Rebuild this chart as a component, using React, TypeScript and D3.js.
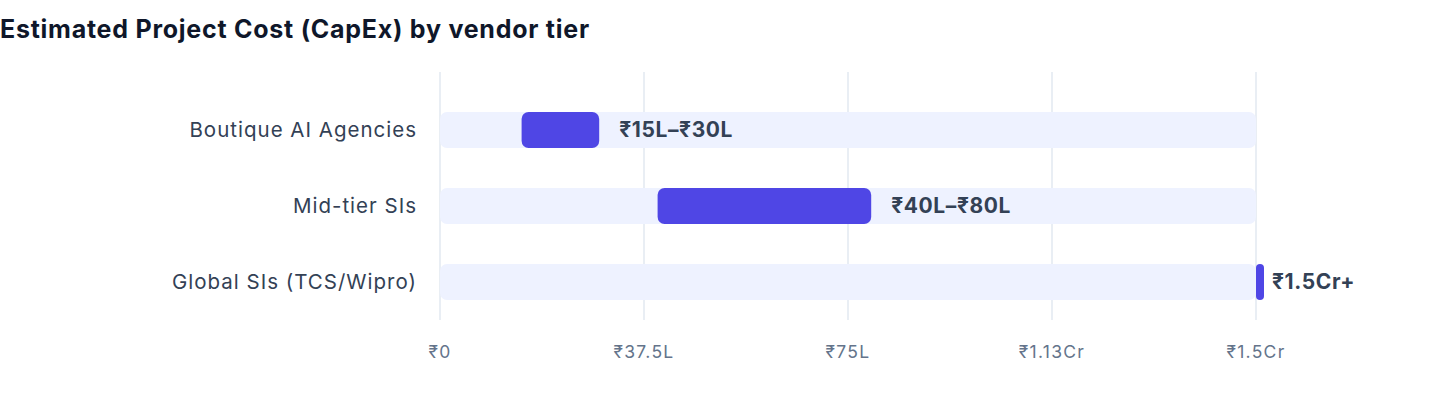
import * as d3 from 'd3';
import React, { useEffect, useRef } from 'react';

const tiers = ['Boutique AI Agencies', 'Mid-tier SIs', 'Global SIs (TCS/Wipro)'];
// cost ranges in lakhs (₹L)
const lowValues = [15, 40, 150];
const highValues = [30, 80, 150];
const rangeLabels = ['₹15L–₹30L', '₹40L–₹80L', '₹1.5Cr+'];
const tickValues = [0, 37.5, 75, 112.5, 150];
const tickLabels = ['₹0', '₹37.5L', '₹75L', '₹1.13Cr', '₹1.5Cr'];

const width = 1440;
const height = 408;
const FONT = 'Inter, "Liberation Sans", Arial, sans-serif';

const App: React.FC = () => {
  const svgRef = useRef<SVGSVGElement>(null);

  useEffect(() => {
    if (!svgRef.current) return;
    const svg = d3.select(svgRef.current);
    svg.selectAll('*').remove();

    const margin = { top: 72, right: 184, bottom: 88, left: 440 };
    const innerWidth = width - margin.left - margin.right;
    const innerHeight = height - margin.top - margin.bottom;

    const x = d3.scaleLinear().domain([0, 150]).range([0, innerWidth]);
    const y = d3.scaleBand()
      .domain(tiers)
      .range([20, innerHeight])
      .paddingInner(0.526)
      .paddingOuter(0.263);

    // title
    svg.append('text')
      .attr('x', 0)
      .attr('y', 38)
      .attr('font-family', FONT)
      .attr('font-size', '25px')
      .attr('font-weight', 'bold')
      .attr('letter-spacing', '0.75px')
      .attr('fill', '#0f172a')
      .text('Estimated Project Cost (CapEx) by vendor tier');

    const g = svg.append('g').attr('transform', `translate(${margin.left}, ${margin.top})`);

    // grid lines
    g.selectAll('line.grid')
      .data(tickValues)
      .join('line')
      .attr('class', 'grid')
      .attr('x1', d => x(d))
      .attr('x2', d => x(d))
      .attr('y1', 0)
      .attr('y2', innerHeight)
      .attr('stroke', '#e2e8f0')
      .attr('stroke-width', 1.5);

    // x axis labels
    g.selectAll('text.tick')
      .data(tickValues)
      .join('text')
      .attr('class', 'tick')
      .attr('x', d => x(d))
      .attr('y', innerHeight + 32)
      .attr('dy', '0.35em')
      .attr('text-anchor', 'middle')
      .attr('font-family', FONT)
      .attr('font-size', '17.5px')
      .attr('letter-spacing', '1.3px')
      .attr('fill', '#64748b')
      .text((d, i) => tickLabels[i]);

    // background tracks
    g.selectAll('rect.track')
      .data(tiers)
      .join('rect')
      .attr('class', 'track')
      .attr('x', 0)
      .attr('y', d => y(d) || 0)
      .attr('width', innerWidth)
      .attr('height', y.bandwidth())
      .attr('rx', 7)
      .attr('fill', '#eef2ff');

    // range bars
    const barWidth = (i: number) => Math.max(x(highValues[i]) - x(lowValues[i]) - 4, 8);
    g.selectAll('rect.bar')
      .data(tiers)
      .join('rect')
      .attr('class', 'bar')
      .attr('x', (d, i) => x(lowValues[i]))
      .attr('y', d => y(d) || 0)
      .attr('width', (d, i) => barWidth(i))
      .attr('height', y.bandwidth())
      .attr('rx', (d, i) => Math.min(7, barWidth(i) / 2))
      .attr('fill', '#4f46e5');

    // value labels
    g.selectAll('text.value')
      .data(tiers)
      .join('text')
      .attr('class', 'value')
      .attr('x', (d, i) => x(highValues[i]) + 16)
      .attr('y', d => (y(d) || 0) + y.bandwidth() / 2)
      .attr('dy', '0.35em')
      .attr('font-family', FONT)
      .attr('font-size', '21px')
      .attr('font-weight', 'bold')
      .attr('letter-spacing', '0.6px')
      .attr('fill', '#334155')
      .text((d, i) => rangeLabels[i]);

    // category labels
    g.selectAll('text.cat')
      .data(tiers)
      .join('text')
      .attr('class', 'cat')
      .attr('x', -23)
      .attr('y', d => (y(d) || 0) + y.bandwidth() / 2)
      .attr('dy', '0.35em')
      .attr('text-anchor', 'end')
      .attr('font-family', FONT)
      .attr('font-size', '20.5px')
      .attr('letter-spacing', '1px')
      .attr('fill', '#334155')
      .text(d => d);
  }, []);

  return (
    <svg
      ref={svgRef}
      width={width}
      height={height}
      style={{ position: 'absolute', left: 0, top: 0, display: 'block', background: '#fff' }}
    />
  );
};

export default App;
